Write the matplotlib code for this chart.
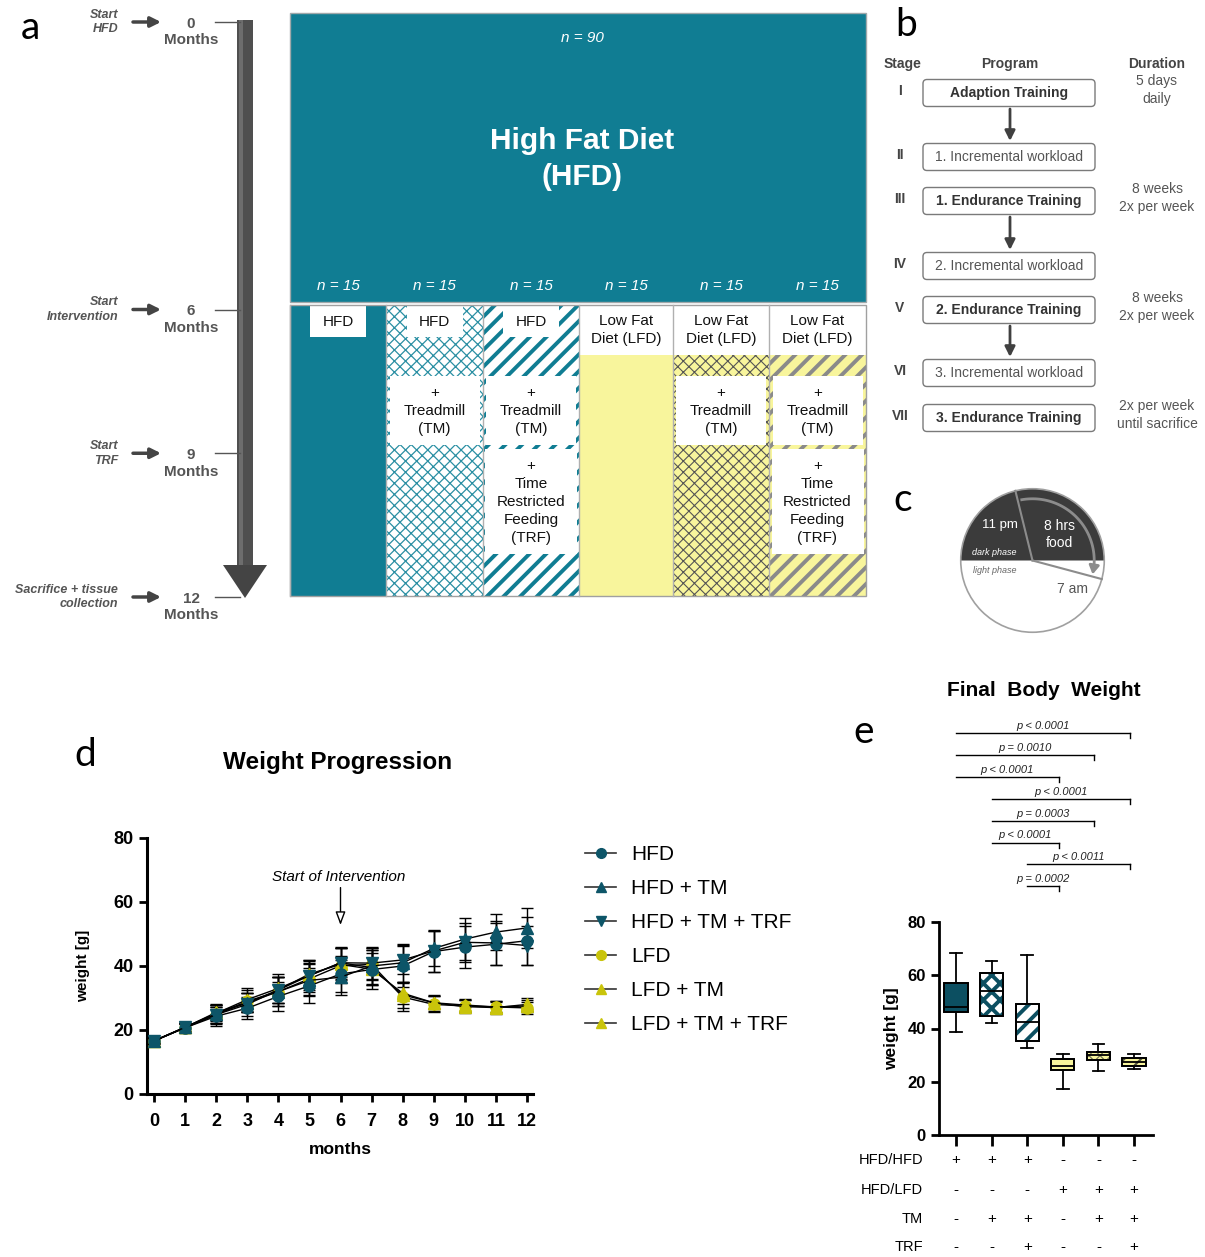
import numpy as np
import matplotlib
matplotlib.use('Agg')
import matplotlib.pyplot as plt
from matplotlib.patches import Rectangle, Polygon, Wedge, Circle, FancyBboxPatch, PathPatch
from matplotlib.lines import Line2D

plt.rcParams['font.family'] = ['Liberation Sans', 'DejaVu Sans']

W, H = 1205, 1257
TEAL = '#107D93'
DARK_TEAL = '#0C4F61'
MARK_TEAL = '#0D5568'
YELLOW = '#F8F59C'
OLIVE = '#C9C40B'
GREY = '#555555'

# ---- panel a: study design ----
timeline_months = [0, 6, 9, 12]
timeline_events = ['Start\nHFD', 'Start\nIntervention', 'Start\nTRF', 'Sacrifice + tissue\ncollection']
n_total = 90
cohort_n = [15, 15, 15, 15, 15, 15]
cohort_diet = ['HFD', 'HFD', 'HFD', 'Low Fat\nDiet (LFD)', 'Low Fat\nDiet (LFD)', 'Low Fat\nDiet (LFD)']
cohort_tm = [False, True, True, False, True, True]
cohort_trf = [False, False, True, False, False, True]

# ---- panel b: training program ----
stages = ['I', 'II', 'III', 'IV', 'V', 'VI', 'VII']
programs = ['Adaption Training', '1. Incremental workload', '1. Endurance Training',
            '2. Incremental workload', '2. Endurance Training',
            '3. Incremental workload', '3. Endurance Training']
durations = ['5 days\ndaily', '', '8 weeks\n2x per week', '', '8 weeks\n2x per week',
             '', '2x per week\nuntil sacrifice']

# ---- panel d: weight progression ----
months = list(range(13))
groups = ['HFD', 'HFD + TM', 'HFD + TM + TRF', 'LFD', 'LFD + TM', 'LFD + TM + TRF']
w_hfd = [16.6, 20.7, 24.3, 26.8, 30.5, 33.8, 37.5, 38.9, 40.0, 44.5, 45.9, 46.8, 47.9]
w_hfd_tm = [16.6, 20.8, 25.0, 28.5, 32.0, 35.5, 36.5, 40.0, 41.0, 45.5, 48.4, 50.6, 51.9]
w_hfd_tm_trf = [16.6, 20.8, 24.8, 28.0, 32.5, 37.0, 41.0, 40.9, 41.9, 44.7, 47.4, 47.2, 46.4]
w_lfd = [16.6, 20.7, 24.8, 29.0, 32.0, 36.0, 40.1, 40.5, 30.3, 28.0, 27.5, 27.2, 26.9]
w_lfd_tm = [16.6, 20.9, 25.2, 29.5, 33.0, 37.0, 41.0, 39.5, 31.0, 28.5, 27.3, 27.0, 28.0]
w_lfd_tm_trf = [16.6, 20.8, 25.5, 28.5, 32.5, 37.5, 40.5, 39.0, 31.5, 28.5, 27.8, 27.2, 27.5]
sd_hfd = [1.0, 1.5, 3.0, 3.5, 4.5, 5.5, 5.5, 6.0, 6.5, 6.5, 6.5, 6.5, 7.5]
sd_hfd_tm = [0.8, 1.2, 2.8, 3.0, 4.5, 5.0, 5.5, 5.5, 6.0, 5.5, 6.5, 5.5, 6.3]
sd_hfd_tm_trf = [0.8, 1.3, 2.5, 3.5, 4.0, 4.5, 4.5, 5.0, 4.5, 6.5, 6.0, 7.0, 6.0]
sd_lfd = [0.8, 1.2, 3.0, 3.5, 4.5, 5.0, 5.5, 5.0, 4.5, 2.5, 2.0, 1.5, 2.0]
sd_lfd_tm = [0.8, 1.2, 2.5, 3.5, 4.5, 5.0, 5.0, 5.5, 4.0, 2.5, 2.0, 2.0, 2.0]
sd_lfd_tm_trf = [0.8, 1.3, 2.5, 3.0, 4.0, 4.5, 5.0, 5.0, 3.5, 2.0, 2.0, 1.8, 2.0]
weights = [w_hfd, w_hfd_tm, w_hfd_tm_trf, w_lfd, w_lfd_tm, w_lfd_tm_trf]
sds = [sd_hfd, sd_hfd_tm, sd_hfd_tm_trf, sd_lfd, sd_lfd_tm, sd_lfd_tm_trf]

# ---- panel e: final body weight ----
bx_med = [48.2, 53.9, 42.3, 26.1, 30.0, 27.6]
bx_q1 = [46.1, 44.8, 35.3, 24.5, 28.2, 26.1]
bx_q3 = [57.2, 60.9, 49.0, 28.5, 31.1, 28.8]
bx_lo = [38.7, 42.1, 32.6, 17.2, 24.1, 24.7]
bx_hi = [68.1, 65.3, 67.4, 30.6, 34.1, 30.3]
comparisons = [(1, 6, 'p < 0.0001'), (1, 5, 'p = 0.0010'), (1, 4, 'p < 0.0001'),
               (2, 6, 'p < 0.0001'), (2, 5, 'p = 0.0003'), (2, 4, 'p < 0.0001'),
               (3, 6, 'p < 0.0011'), (3, 4, 'p = 0.0002')]
table_rows = ['HFD/HFD', 'HFD/LFD', 'TM', 'TRF']
table_signs = [['+', '+', '+', '-', '-', '-'],
               ['-', '-', '-', '+', '+', '+'],
               ['-', '+', '+', '-', '+', '+'],
               ['-', '-', '+', '-', '-', '+']]


def fx(x):
    return x / W


def fy(y):
    return 1 - y / H


def hatched(ax, xy, w, h, fc, hc, hatch, hlw):
    ax.add_patch(Rectangle(xy, w, h, facecolor=fc, edgecolor='none', lw=0))
    with plt.rc_context({'hatch.linewidth': hlw}):
        p = Rectangle(xy, w, h, facecolor='none', edgecolor=hc, hatch=hatch, lw=0)
    if hasattr(p, 'set_hatch_linewidth'):
        p.set_hatch_linewidth(hlw)
    ax.add_patch(p)


fig = plt.figure(figsize=(W / 100, H / 100), dpi=100)
ax0 = fig.add_axes([0, 0, 1, 1])
ax0.set_xlim(0, W)
ax0.set_ylim(H, 0)
ax0.axis('off')

# panel letters
for lbl, x, y in [('a', 30, 28), ('b', 906, 25), ('c', 903, 500), ('d', 85, 755), ('e', 864, 732)]:
    ax0.text(x, y, lbl, fontsize=28, family='Lato', ha='center', va='center')

# ---- panel a timeline ----
ax0.add_patch(Rectangle((237, 20), 16, 548, fc='#4f4f4f', ec='none'))
ax0.add_patch(Rectangle((239, 20), 4, 548, fc='#6d6d6d', ec='none'))
ax0.add_patch(Polygon([(223, 565), (267, 565), (245, 598)], closed=True, fc='#444444', ec='none'))
for m, ev in zip(timeline_months, timeline_events):
    y = 22 + m * (597 - 22) / 12
    ax0.text(118, y, ev, ha='right', va='center', fontsize=9, style='italic', weight='bold',
             color=GREY, multialignment='right', linespacing=1.3)
    ax0.annotate('', xy=(161, y), xytext=(133, y),
                 arrowprops=dict(arrowstyle='-|>,head_width=0.3,head_length=0.6', color='#444444',
                                 lw=2.5, shrinkA=0, shrinkB=0))
    ax0.text(191, y + 10, f'{m}\nMonths', ha='center', va='center', fontsize=11, weight='bold',
             color=GREY, linespacing=1.25)
    ax0.plot([215, 240], [y, y], color='#555555', lw=1)

# ---- panel a cohort grid ----
ax0.add_patch(Rectangle((290, 13), 576, 289, fc=TEAL, ec='#a0a8aa', lw=1))
ax0.text(582, 38, f'n = {n_total}', ha='center', va='center', fontsize=11, style='italic', color='white')
ax0.text(582, 159, 'High Fat Diet\n(HFD)', ha='center', va='center', fontsize=21.5, weight='bold',
         color='white', linespacing=1.35)
col_edges = [290, 386, 483, 579, 673, 769, 866]
top, bot = 305, 596
for i in range(6):
    x0, x1 = col_edges[i], col_edges[i + 1]
    cw = x1 - x0
    cx = (x0 + x1) / 2
    ax0.text(cx, 286, f'n = {cohort_n[i]}', ha='center', va='center', fontsize=11, style='italic', color='white')
    hfd = cohort_diet[i] == 'HFD'
    if hfd:
        if not cohort_tm[i]:
            ax0.add_patch(Rectangle((x0, top), cw, bot - top, fc=TEAL, ec='none'))
        elif not cohort_trf[i]:
            hatched(ax0, (x0, top), cw, bot - top, 'white', '#2a8fa3', 'xxx', 0.9)
        else:
            hatched(ax0, (x0, top), cw, bot - top, 'white', TEAL, '//', 2.8)
        ax0.add_patch(Rectangle((cx - 28, top + 1), 56, 31, fc='white', ec='none'))
        ax0.text(cx, 322, cohort_diet[i], ha='center', va='center', fontsize=11, color='#111111')
    else:
        ax0.add_patch(Rectangle((x0, top), cw, 50, fc='white', ec='none'))
        if not cohort_tm[i]:
            ax0.add_patch(Rectangle((x0, top + 50), cw, bot - top - 50, fc=YELLOW, ec='none'))
        elif not cohort_trf[i]:
            hatched(ax0, (x0, top + 50), cw, bot - top - 50, YELLOW, '#555555', 'xxx', 0.8)
        else:
            hatched(ax0, (x0, top + 50), cw, bot - top - 50, YELLOW, '#8a8a8a', '//', 2.8)
        ax0.text(cx, 330, cohort_diet[i], ha='center', va='center', fontsize=11, color='#111111',
                 linespacing=1.3)
    if cohort_tm[i]:
        ax0.add_patch(Rectangle((cx - 45, 376), 90, 69, fc='white', ec='none'))
        ax0.text(cx, 411, '+\nTreadmill\n(TM)', ha='center', va='center', fontsize=11,
                 color='#111111', linespacing=1.35)
    if cohort_trf[i]:
        ax0.add_patch(Rectangle((cx - 46, 449), 92, 105, fc='white', ec='none'))
        ax0.text(cx, 502, '+\nTime\nRestricted\nFeeding\n(TRF)', ha='center', va='center',
                 fontsize=11, color='#111111', linespacing=1.35)
    ax0.plot([x0, x0], [top, bot], color='#b0b0b0', lw=1)
ax0.add_patch(Rectangle((290, top), 576, bot - top, fc='none', ec='#a0a0a0', lw=1))

# ---- panel b ----
stage_rows = [93, 157, 201, 266, 310, 373, 418]
for lbl, x in [('Stage', 903), ('Program', 1010), ('Duration', 1157)]:
    ax0.text(x, 64, lbl, ha='center', va='center', fontsize=10, weight='bold', color='#444444')
for k, (st, prog, dur) in enumerate(zip(stages, programs, durations)):
    yc = stage_rows[k]
    ax0.text(900, yc - 2, st, ha='center', va='center', fontsize=10, weight='bold', color='#444444')
    ax0.add_patch(FancyBboxPatch((923, yc - 13.5), 172, 27, boxstyle='round,pad=0,rounding_size=4',
                                 fc='white', ec='#7a7a7a', lw=1))
    inc = 'Incremental' in prog
    ax0.text(1009, yc, prog, ha='center', va='center', fontsize=10,
             weight='normal' if inc else 'bold', color='#555555' if inc else '#333333')
    if dur:
        ax0.text(1157, yc - 3, dur, ha='center', va='center', fontsize=10, color='#555555', linespacing=1.3)
    if k in (0, 2, 4):
        ax0.annotate('', xy=(1010, stage_rows[k + 1] - 16), xytext=(1010, yc + 16),
                     arrowprops=dict(arrowstyle='-|>,head_width=0.3,head_length=0.6', color='#404040',
                                     lw=2, shrinkA=0, shrinkB=0))

# ---- panel c ----
axc = fig.add_axes([fx(955), fy(638), 155 / W, 155 / H])
axc.set_xlim(-1.08, 1.08)
axc.set_ylim(-1.08, 1.08)
axc.axis('off')
axc.add_patch(Circle((0, 0), 1, fc='white', ec='none'))
axc.add_patch(Wedge((0, 0), 1, 0, 180, fc='#3b3b3b', ec='none'))
axc.add_patch(Circle((0, 0), 1, fc='none', ec='#a0a0a0', lw=1.2))
for ang in (103.8, -15):
    a = np.radians(ang)
    axc.plot([0, np.cos(a)], [0, np.sin(a)], color='#8c8c8c', lw=1.5)
th = np.radians(np.linspace(100, -8, 60))
axc.plot(0.86 * np.cos(th), 0.86 * np.sin(th), color='#8c8c8c', lw=2)
a1, a2 = np.radians(-13), np.radians(-6)
axc.annotate('', xy=(0.86 * np.cos(a1), 0.86 * np.sin(a1)), xytext=(0.86 * np.cos(a2), 0.86 * np.sin(a2)),
             arrowprops=dict(arrowstyle='-|>,head_width=0.3,head_length=0.5', color='#8c8c8c', lw=2,
                             shrinkA=0, shrinkB=0))
axc.text(-0.46, 0.5, '11 pm', ha='center', va='center', fontsize=9.5, color='white')
axc.text(0.37, 0.36, '8 hrs\nfood', ha='center', va='center', fontsize=10, color='white', linespacing=1.25)
axc.text(-0.53, 0.107, 'dark phase', ha='center', va='center', fontsize=6.5, style='italic', color='white')
axc.text(-0.53, -0.14, 'light phase', ha='center', va='center', fontsize=6.5, style='italic', color='#666666')
axc.text(0.56, -0.4, '7 am', ha='center', va='center', fontsize=10, color='#555555')

# ---- panel d ----
axd = fig.add_axes([fx(147), fy(1094), 386 / W, 256 / H])
axd.patch.set_alpha(0)
ppm = (527 - 154) / 12
axd.set_xlim(-(154 - 147) / ppm, 12 + (533 - 527) / ppm)
axd.set_ylim(0, 80)
series_style = [(MARK_TEAL, 'o'), (MARK_TEAL, '^'), (MARK_TEAL, 'v'),
                (OLIVE, 'o'), (OLIVE, '^'), (OLIVE, '^')]
for i in [3, 4, 5, 0, 1, 2]:
    c, mk = series_style[i]
    axd.errorbar(months, weights[i], yerr=sds[i], fmt='none', ecolor='black', elinewidth=1,
                 capsize=4.5, capthick=1, zorder=2)
    axd.plot(months, weights[i], color='black', lw=1, marker=mk, ms=8, mfc=c, mec=c, zorder=3)
for s in ('top', 'right'):
    axd.spines[s].set_visible(False)
for s in ('left', 'bottom'):
    axd.spines[s].set_linewidth(2.2)
axd.set_xticks(months)
axd.set_xticklabels([str(m) for m in months], fontsize=13, fontweight='bold')
axd.set_yticks([0, 20, 40, 60, 80])
axd.set_yticklabels(['0', '20', '40', '60', '80'], fontsize=13, fontweight='bold')
axd.tick_params(width=2, length=6)
axd.tick_params(axis='x', pad=8)
axd.set_xlabel('months', fontsize=12.5, fontweight='bold', labelpad=8)
axd.set_ylabel('weight [g]', fontsize=11, fontweight='bold', labelpad=17)
axd.annotate('', xy=(6, 52.8), xytext=(6, 64.5),
             arrowprops=dict(arrowstyle='-|>,head_width=0.3,head_length=0.8', facecolor='white',
                             edgecolor='black', lw=1, shrinkA=0, shrinkB=0))
axd.text(5.93, 67.8, 'Start of Intervention', ha='center', va='center', fontsize=11, style='italic')
handles = [Line2D([], [], color='#333333', lw=1.2, marker=mk, ms=7, mfc=c, mec=c) for c, mk in series_style]
axd.legend(handles, groups, loc='upper left', bbox_to_anchor=(fx(585), fy(845)),
           bbox_transform=fig.transFigure, frameon=False, fontsize=15, handlelength=1.5,
           handletextpad=0.7, labelspacing=0.72, borderaxespad=0, borderpad=0)
fig.text(fx(338), fy(763), 'Weight Progression', ha='center', va='center', fontsize=17.5, fontweight='bold')

# ---- panel e ----
axe = fig.add_axes([fx(939), fy(1135.3), 214 / W, 213.6 / H])
axe.patch.set_alpha(0)
axe.set_xlim(1 - 17 / 35.6, 1 + 197 / 35.6)
axe.set_ylim(0, 80)
stats = [dict(med=m, q1=a, q3=b, whislo=lo, whishi=hi, fliers=[])
         for m, a, b, lo, hi in zip(bx_med, bx_q1, bx_q3, bx_lo, bx_hi)]
positions = list(range(1, 7))
bp = axe.bxp(stats, positions=positions, widths=0.65, patch_artist=True, showfliers=False,
             capwidths=0.33, boxprops=dict(lw=1.3, edgecolor='black'),
             whiskerprops=dict(lw=1.3), capprops=dict(lw=1.3),
             medianprops=dict(color='black', lw=1.3, zorder=5), manage_ticks=False)
box_fc = [DARK_TEAL, 'white', 'white', YELLOW, YELLOW, YELLOW]
box_hatch = [None, 'xx', '//', None, 'xxx', '//']
box_hc = [None, DARK_TEAL, DARK_TEAL, None, '#6b6b50', '#55553f']
box_hlw = [0, 2.8, 2.8, 0, 0.8, 1.5]
for k, box in enumerate(bp['boxes']):
    box.set_facecolor(box_fc[k])
    z = box.get_zorder()
    if box_hatch[k]:
        with plt.rc_context({'hatch.linewidth': box_hlw[k]}):
            hp = PathPatch(box.get_path(), transform=axe.transData, facecolor='none',
                           edgecolor=box_hc[k], hatch=box_hatch[k], lw=0, zorder=z + 0.01)
        if hasattr(hp, 'set_hatch_linewidth'):
            hp.set_hatch_linewidth(box_hlw[k])
        axe.add_patch(hp)
    axe.add_patch(PathPatch(box.get_path(), transform=axe.transData, facecolor='none',
                            edgecolor='black', lw=1.3, zorder=z + 0.02))
for s in ('top', 'right'):
    axe.spines[s].set_visible(False)
for s in ('left', 'bottom'):
    axe.spines[s].set_linewidth(2)
axe.set_xticks(positions)
axe.set_xticklabels([])
axe.tick_params(axis='x', width=2, length=8)
axe.set_yticks([0, 20, 40, 60, 80])
axe.set_yticklabels(['0', '20', '40', '60', '80'], fontsize=12, fontweight='bold')
axe.tick_params(axis='y', width=2, length=6)
axe.set_ylabel('weight [g]', fontsize=12.5, fontweight='bold', labelpad=6)
tr = axe.get_xaxis_transform()
ax_h = 213.6
for k, (i, j, lbl) in enumerate(comparisons):
    ypx = 733 + 21.9 * k
    ya = (1135.3 - ypx) / ax_h
    je = j - 0.12
    axe.plot([i, je], [ya, ya], transform=tr, color='black', lw=1, clip_on=False)
    axe.plot([je, je], [ya, ya - 5 / ax_h], transform=tr, color='black', lw=1, clip_on=False)
    axe.text((i + je) / 2, ya + 2 / ax_h, lbl, transform=tr, ha='center', va='bottom',
             fontsize=8, style='italic', color='#222222')
for r, (name, signs) in enumerate(zip(table_rows, table_signs)):
    ypx = [1160, 1190, 1219, 1247][r]
    ya = (1135.3 - ypx) / ax_h
    axe.text(1 + (923 - 956) / 35.6, ya, name, transform=tr, ha='right', va='center', fontsize=10.5)
    for p, sgn in zip(positions, signs):
        axe.text(p, ya, sgn, transform=tr, ha='center', va='center', fontsize=11)
fig.text(fx(1044), fy(691), 'Final  Body  Weight', ha='center', va='center', fontsize=15, fontweight='bold')

fig.savefig('out.png', dpi=100)
